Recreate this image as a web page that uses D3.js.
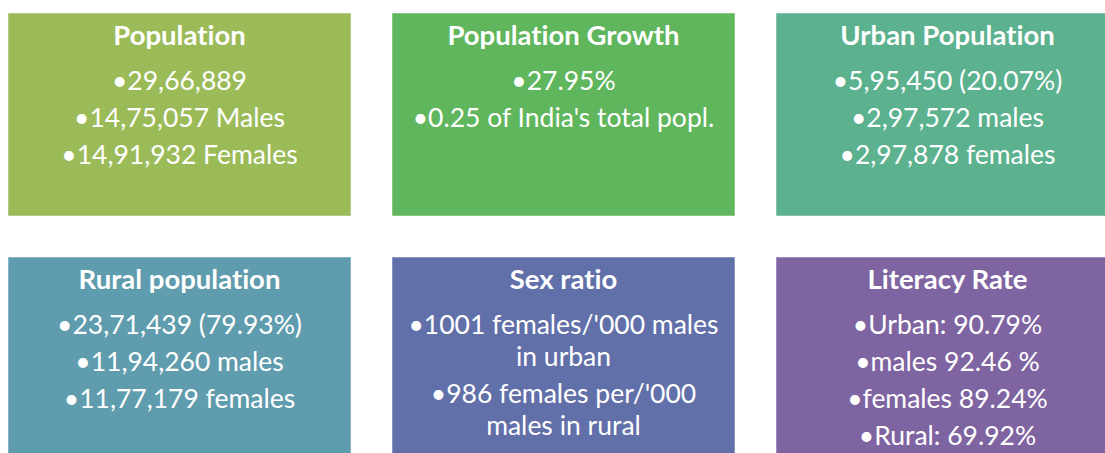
<!DOCTYPE html>
<html>
<head>
<meta charset="utf-8">
<script src="https://cdn.jsdelivr.net/npm/d3@7"></script>
<style>
  body { margin: 0; background: #fff; }
  svg { display: block; }
  text { font-variant-ligatures: none; }
</style>
</head>
<body>
<div id="chart"></div>
<script>
// box titles, in reading order
var titles = ["Population", "Population Growth", "Urban Population",
              "Rural population", "Sex ratio", "Literacy Rate"];

// bullet items for each box ("\n" = wrapped line inside one bullet)
var population = ["29,66,889", "14,75,057 Males", "14,91,932 Females"];
var growth = ["27.95%", "0.25 of India's total popl."];
var urban = ["5,95,450 (20.07%)", "2,97,572 males", "2,97,878 females"];
var rural = ["23,71,439 (79.93%)", "11,94,260 males", "11,77,179 females"];
var sexRatio = ["1001 females/'000 males\nin urban", "986 females per/'000\nmales in rural"];
var literacy = ["Urban: 90.79%", "males 92.46 %", "females 89.24%", "Rural: 69.92%"];

var items = [population, growth, urban, rural, sexRatio, literacy];
var colors = ["#9bbb59", "#5fb65d", "#5cb18f", "#5f9cad", "#6270a9", "#7f64a2"];

var width = 1105, height = 453;

var svg = d3.select("#chart")
  .append("svg")
    .attr("width", width)
    .attr("height", height);

var data = titles.map(function(t, i) {
  return {title: t, items: items[i], color: colors[i], col: i % 3, row: Math.floor(i / 3)};
});

// column / row bands
var x = d3.scaleBand().domain([0, 1, 2]).range([8, 1119]).paddingInner(41 / 384);
var y = d3.scaleBand().domain([0, 1]).range([13, 460]).paddingInner(41 / 244);

var box = svg.selectAll("g.box")
  .data(data)
  .enter()
  .append("g")
    .attr("class", "box")
    .attr("transform", d => "translate(" + x(d.col) + "," + y(d.row) + ")");

box.append("rect")
  .attr("width", x.bandwidth())
  .attr("height", y.bandwidth())
  .attr("fill", d => d.color)
  .attr("stroke", "rgba(255,255,255,0.5)")
  .attr("stroke-width", 1);

box.append("text")
  .attr("x", x.bandwidth() / 2)
  .attr("y", 32)
  .attr("text-anchor", "middle")
  .style("font-family", "Lato, 'Open Sans', sans-serif")
  .style("font-weight", "bold")
  .style("font-size", "27.5px")
  .style("fill", "#fff")
  .text(d => d.title);

// body lines: bullets 37px apart, wrapped lines 32px apart
box.each(function(d) {
  var g = d3.select(this);
  var yy = 77;
  d.items.forEach(function(item) {
    item.split("\n").forEach(function(line, j) {
      if (j > 0) yy += 32;
      g.append("text")
        .attr("x", x.bandwidth() / 2)
        .attr("y", yy)
        .attr("text-anchor", "middle")
        .style("font-family", "Lato, 'Open Sans', sans-serif")
        .style("font-size", "26.5px")
        .style("fill", "#fff")
        .text((j === 0 ? "\u2022" : "") + line);
    });
    yy += 37;
  });
});
</script>
</body>
</html>
